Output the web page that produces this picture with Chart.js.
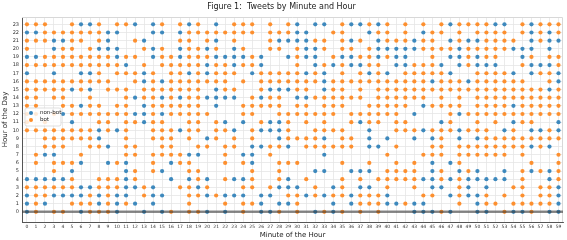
<!DOCTYPE html>
<html>
<head>
<meta charset="utf-8">
<script src="https://cdn.jsdelivr.net/npm/chart.js@4.4.0/dist/chart.umd.min.js"></script>
<style>
  html, body { margin: 0; padding: 0; background: #fff; }
</style>
</head>
<body>
<canvas id="tweetChart" width="567" height="240"></canvas>
<script>
// categories
const minutes = [0,1,2,3,4,5,6,7,8,9,10,11,12,13,14,15,16,17,18,19,20,21,22,23,24,25,26,27,28,29,
                 30,31,32,33,34,35,36,37,38,39,40,41,42,43,44,45,46,47,48,49,50,51,52,53,54,55,56,57,58,59];
const hours = [0,1,2,3,4,5,6,7,8,9,10,11,12,13,14,15,16,17,18,19,20,21,22,23];
const minuteLabels = minutes.map(String);
const hourLabels = hours.map(String);

// one string per hour (0..23), one char per minute: n = non-bot, b = bot, . = nothing
const cellsByHour = [
  "nb.bb.nbbb n..n.nb.bb n.n.b.nnb. b.nbnb.b.b ...nnnbn.. nn.bnnb.nn", // 0
  "nbn..bbbnb nbn.n...b. ..b.bbn.nn b...n.nbbb nnbnn...b. nbb.bbbbbn", // 1
  "nbbnnnnbnb nn.bnn..bb nbnnn.nn.b bnbnbbnbbb n...bb.nbn nb.b.b.bbn", // 2
  "bbbbbbnnbb bnnbn..bbn b...bb.bnn n.b.nb.nn. b..b.nn.bn .n..bb.bbn", // 3
  "nnnnnb..bb bnb...n.nb n.bnnb..bn .b...b.b.b bbbbnnbnbn nnnn.b..nb", // 4
  "...b.n.... .nb.bn..bb .....b..b. ..nn..nnn. bbbb.nb.nb n..n.bnbnb", // 5
  ".b.bbbn..n bn..b.nbb. ..b.bn..bb b....b..b. .b.b.n.nb. ......b..b", // 6
  ".bnn..b... .bb.bbbbnn ..b.nn.b.. ...n...... b...bbb.bb bbbb.b...b", // 7
  "..bbb..bbn .bb..bb..b b.bb.nnbbn .bbbbbb.nn .b...bb.bb bbbbbbnbn.", // 8
  "..bbbbbbn. .b..bbb.b. nb.b.b..nb bbbn.bb.n. n..n.nb.n. nbbbbbbbbb", // 9
  "bbbbbbbbnb nb..bbbnbb .bbn.bnnnb ..bbbb..n. .bbbnbbbnb bb.nb.nnbn", // 10
  "b.b..n..bb .bbnbb..bb .bn.n.bnnb .b.b..bnbb .bb...nb.. b.b.nbb..n", // 11
  "bb.bnbbbbb bbnnbnbbbb b...bb..bb bbbbb.bbbb bb.n...bnb bbbbbbbbbb", // 12
  "bb..bbnbb. bb.nbbbbbb .n..bbbbb. bb.bbb..bb bbb.nbbbb. bbbbnbbbbb", // 13
  "bb.bb..b.. .bnbbnbnbb nnnn.bnbb. nnbbbbbb.b bbbbb.b.b. bbbbbbbbbb", // 14
  "bbbbbnbn.b bb.bbbbbbb .nbb..bnnn bb.nbb.b.b bbbbbbbbbb bbbbbbbbnb", // 15
  "bbbbbbbbbb ..bnbnbbbb bbb.b.bbbb bbbnbbbbbb bbbbbnbbbn bbbbbb..bn", // 16
  "n..n..nnb. bbbnb.bbnb nbbb.nbbbb bnbn.b.bnb n.bbbbbn.. bbbbn.nbbn", // 17
  "bbbbbbbbbb bn.b.bbbbb nbbnbbn... b.nbnbnnbb .nnbbbn.nb nnn..bnnnb", // 18
  "nnbbbbbbbb nbb.nbbnbb bnnnnbn..n bnn.bnnbbn bnn..b.nnb nbb..nb.bb", // 19
  "b..nbb.bnn n..bnb.nbb nb.nb..bb. bnnb.bb.bn nnnnbbbbnb bbbbnnn.n.", // 20
  "bbbnnbb.bn ..bn...bb. bn.b...bnn nnbb.bnb.n bbbnbb.nbn nbbbb.nbnn", // 21
  "nnbbbbbbbn n...nn.nbb bbbbbb.bbb nn..bb..nb b.b.nbb.b. bbbb.bnbnb", // 22
  "bbb..bnnb. bbn.nb.bnb .n.bbb.b.b n.nn.bnnbn b.b.b.bnbb bbnn.bnbbb"  // 23
];

const xMin = -0.55, xMax = 59.5;
const yMin = -1.25, yMax = 23.9;

const botPoints = [];
const nonBotPoints = [];
hours.forEach(h => {
    const row = cellsByHour[h].replace(/ /g, "");
    minutes.forEach(m => {
        if (row[m] === "b") botPoints.push({ x: m, y: h });
        if (row[m] === "n") nonBotPoints.push({ x: m, y: h });
    });
});

const font = "DejaVu Sans";

// matplotlib-like legend box sitting inside the plot
const legendBox = {
    id: "legendBox",
    afterDraw(chart) {
        const ctx = chart.ctx;
        const a = chart.chartArea;
        const x0 = a.left + 3, y0 = a.top + 91, w = 36, h = 18;
        ctx.save();
        ctx.beginPath();
        ctx.roundRect(x0, y0, w, h, 2);
        ctx.fillStyle = "rgba(255,255,255,0.8)";
        ctx.fill();
        ctx.strokeStyle = "rgba(204,204,204,0.8)";
        ctx.lineWidth = 0.8;
        ctx.stroke();
        const items = [
            { text: "non-bot", color: "rgba(31,119,180,0.9)" },
            { text: "bot", color: "rgba(255,127,14,0.9)" }
        ];
        ctx.font = "5.5px '" + font + "'";
        ctx.textBaseline = "middle";
        items.forEach((it, i) => {
            const cy = y0 + 5 + i * 7;
            ctx.beginPath();
            ctx.arc(x0 + 6, cy, 2, 0, Math.PI * 2);
            ctx.fillStyle = it.color;
            ctx.fill();
            ctx.fillStyle = "#222";
            ctx.fillText(it.text, x0 + 15, cy);
        });
        ctx.restore();
    }
};

// light top / right frame
const frame = {
    id: "frame",
    beforeDatasetsDraw(chart) {
        const ctx = chart.ctx;
        const a = chart.chartArea;
        ctx.save();
        ctx.strokeStyle = "#d8d8d8";
        ctx.lineWidth = 1;
        ctx.beginPath();
        ctx.moveTo(a.left, a.top + 0.5);
        ctx.lineTo(a.right - 0.5, a.top + 0.5);
        ctx.lineTo(a.right - 0.5, a.bottom);
        ctx.stroke();
        ctx.restore();
    }
};

const ctx = document.getElementById("tweetChart").getContext("2d");
const myChart = new Chart(ctx, {
    type: "scatter",
    data: {
        datasets: [
            {
                label: "zero",
                data: [{ x: xMin, y: 0 }, { x: xMax, y: 0 }],
                showLine: true,
                pointRadius: 0,
                borderColor: "rgba(60,60,60,0.6)",
                borderWidth: 2.5,
                order: 0
            },
            {
                label: "bot",
                data: botPoints,
                backgroundColor: "rgba(255,127,14,0.85)",
                borderWidth: 0,
                pointRadius: 2.1,
                order: 1
            },
            {
                label: "non-bot",
                data: nonBotPoints,
                backgroundColor: "rgba(31,119,180,0.85)",
                borderWidth: 0,
                pointRadius: 2.1,
                order: 2
            }
        ]
    },
    options: {
        responsive: false,
        animation: false,
        layout: { padding: { left: 0, right: 4, top: 0, bottom: 0 } },
        plugins: {
            legend: { display: false },
            tooltip: { enabled: false },
            title: {
                display: true,
                text: "Figure 1:  Tweets by Minute and Hour",
                color: "#222",
                font: { family: font, size: 8, weight: "normal" },
                padding: { top: 2, bottom: 5.4 }
            }
        },
        scales: {
            x: {
                type: "linear",
                min: xMin,
                max: xMax,
                afterBuildTicks: s => { s.ticks = minutes.map(v => ({ value: v })); },
                afterFit: s => { s.height = 18; },
                ticks: {
                    autoSkip: false,
                    maxRotation: 0,
                    minRotation: 0,
                    padding: 2,
                    color: "#333",
                    font: { family: font, size: 4.5 },
                    callback: v => minuteLabels[minutes.indexOf(v)]
                },
                grid: { color: "#e6e6e6", lineWidth: 0.8, drawTicks: false },
                border: { color: "#555", width: 1 },
                title: {
                    display: true,
                    text: "Minute of the Hour",
                    color: "#222",
                    font: { family: font, size: 7 },
                    padding: { top: 0, bottom: 1 }
                }
            },
            y: {
                type: "linear",
                min: yMin,
                max: yMax,
                afterBuildTicks: s => { s.ticks = hours.map(v => ({ value: v })); },
                afterFit: s => { s.width = 22; },
                ticks: {
                    autoSkip: false,
                    padding: 3,
                    color: "#333",
                    font: { family: font, size: 5 },
                    callback: v => hourLabels[hours.indexOf(v)]
                },
                grid: { color: "#e6e6e6", lineWidth: 0.8, drawTicks: false },
                border: { color: "#555", width: 1 },
                title: {
                    display: true,
                    text: "Hour of the Day",
                    color: "#222",
                    font: { family: font, size: 7 },
                    padding: { top: 1, bottom: 0 }
                }
            }
        }
    },
    plugins: [frame, legendBox]
});
</script>
</body>
</html>
